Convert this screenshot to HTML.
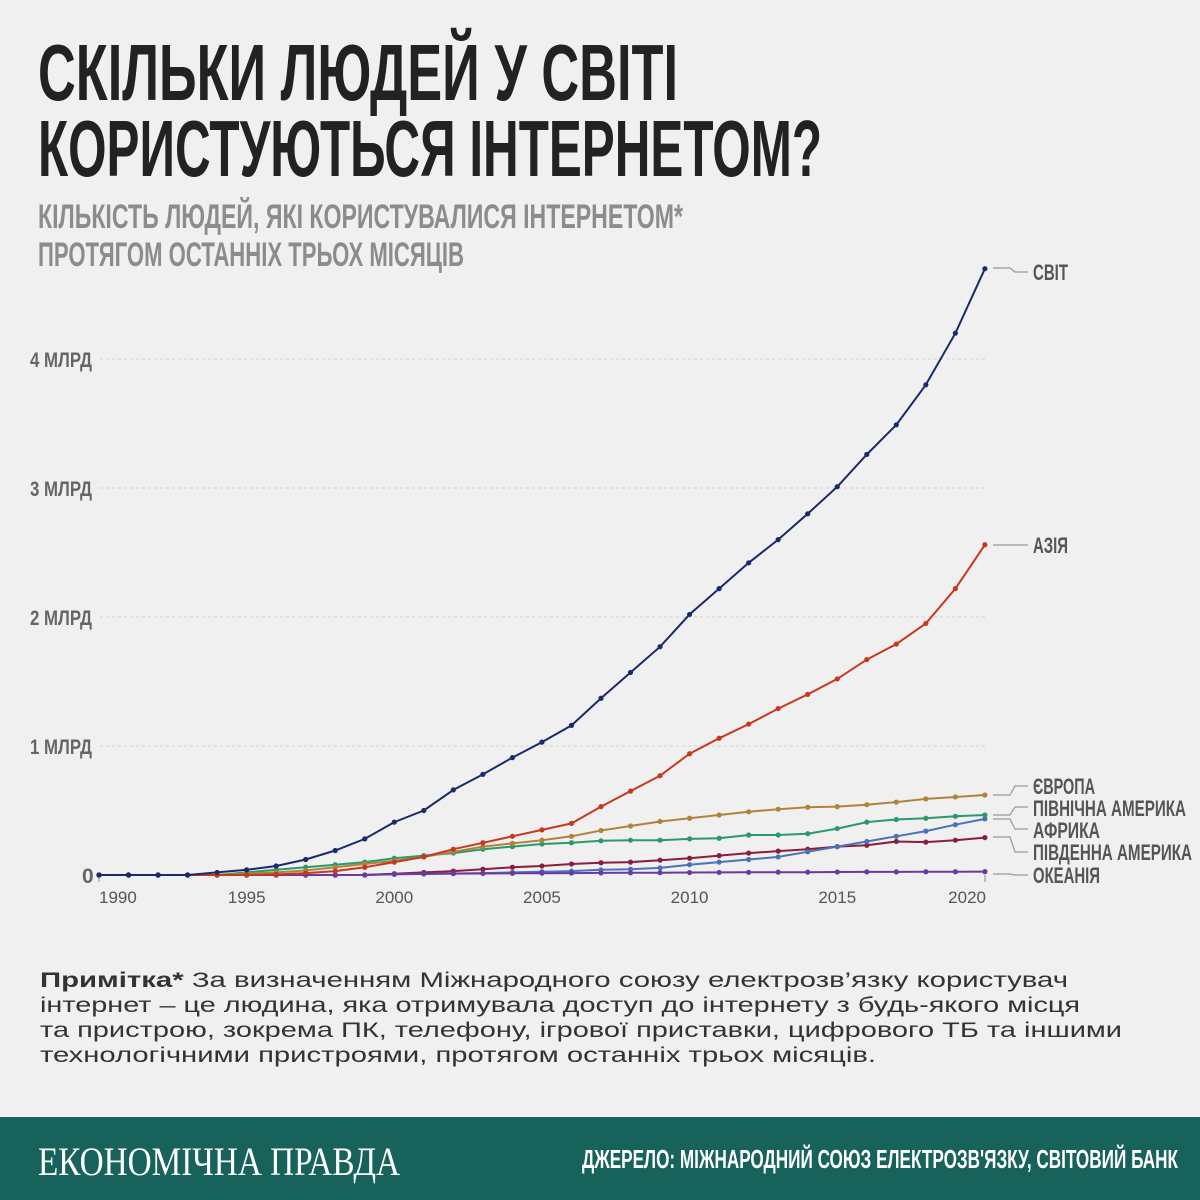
<!DOCTYPE html>
<html><head><meta charset="utf-8"><style>
html,body{margin:0;padding:0;background:#f0f0f0;}
svg{display:block;}
.c{font-family:"Liberation Sans Narrow","Liberation Sans",sans-serif;font-weight:bold;}
</style></head><body>
<svg id="s" width="1200" height="1200" xmlns="http://www.w3.org/2000/svg">
<rect width="1200" height="1200" fill="#f0f0f0"/>
<text class="c" x="38" y="100" font-size="80" fill="#222" textLength="640" lengthAdjust="spacingAndGlyphs">СКІЛЬКИ ЛЮДЕЙ У СВІТІ</text>
<text class="c" x="38" y="176" font-size="80" fill="#222" textLength="784" lengthAdjust="spacingAndGlyphs">КОРИСТУЮТЬСЯ ІНТЕРНЕТОМ?</text>
<text class="c" x="38" y="228" font-size="34" fill="#8c8c8c" textLength="645" lengthAdjust="spacingAndGlyphs">КІЛЬКІСТЬ ЛЮДЕЙ, ЯКІ КОРИСТУВАЛИСЯ ІНТЕРНЕТОМ*</text>
<text class="c" x="38" y="266" font-size="34" fill="#8c8c8c" textLength="426" lengthAdjust="spacingAndGlyphs">ПРОТЯГОМ ОСТАННІХ ТРЬОХ МІСЯЦІВ</text>
<g id="grid" stroke="#cfcfcf" stroke-dasharray="3,3" stroke-width="1"></g>
<g id="ylab" class="c" font-size="21" fill="#666"></g>
<g id="xlab" font-family="Liberation Sans,sans-serif" font-size="17" fill="#555"></g>
<g id="series"></g>
<g id="conn" stroke="#999" fill="none" stroke-width="1.2"></g>
<g class="c" font-size="22" fill="#555">
<text x="1033" y="280" textLength="35" lengthAdjust="spacingAndGlyphs">СВІТ</text>
<text x="1033" y="553" textLength="35" lengthAdjust="spacingAndGlyphs">АЗІЯ</text>
<text x="1033" y="794" textLength="62" lengthAdjust="spacingAndGlyphs">ЄВРОПА</text>
<text x="1033" y="816" textLength="153" lengthAdjust="spacingAndGlyphs">ПІВНІЧНА АМЕРИКА</text>
<text x="1033" y="838" textLength="67" lengthAdjust="spacingAndGlyphs">АФРИКА</text>
<text x="1033" y="860" textLength="159" lengthAdjust="spacingAndGlyphs">ПІВДЕННА АМЕРИКА</text>
<text x="1033" y="883" textLength="67" lengthAdjust="spacingAndGlyphs">ОКЕАНІЯ</text>
</g>
<g font-family="Liberation Sans,sans-serif" font-size="21" fill="#333">
<text x="40" y="987" textLength="1028" lengthAdjust="spacingAndGlyphs"><tspan font-weight="bold">Примітка*</tspan> За визначенням Міжнародного союзу електрозв’язку користувач</text>
<text x="40" y="1012" textLength="1040" lengthAdjust="spacingAndGlyphs">інтернет – це людина, яка отримувала доступ до інтернету з будь-якого місця</text>
<text x="40" y="1037" textLength="1082" lengthAdjust="spacingAndGlyphs">та пристрою, зокрема ПК, телефону, ігрової приставки, цифрового ТБ та іншими</text>
<text x="40" y="1062" textLength="836" lengthAdjust="spacingAndGlyphs">технологічними пристроями, протягом останніх трьох місяців.</text>
</g>
<rect x="0" y="1117" width="1200" height="83" fill="#17625a"/>
<text x="38" y="1175" font-family="Liberation Serif,serif" font-size="40" fill="#fff" textLength="362" lengthAdjust="spacingAndGlyphs">ЕКОНОМІЧНА ПРАВДА</text>
<text class="c" x="582" y="1168" font-size="26" fill="#fff" textLength="596" lengthAdjust="spacingAndGlyphs">ДЖЕРЕЛО: МІЖНАРОДНИЙ СОЮЗ ЕЛЕКТРОЗВ'ЯЗКУ, СВІТОВИЙ БАНК</text>
</svg>
<script>
var NS="http://www.w3.org/2000/svg";
function el(p,t,a,txt){var e=document.createElementNS(NS,t);for(var k in a)e.setAttribute(k,a[k]);if(txt)e.textContent=txt;document.getElementById(p).appendChild(e);return e;}
function X(i){return 99+i*29.53;}
function Y(v){return 875-v*129;}
for(var b=1;b<=4;b++){el("grid","line",{x1:100,x2:985,y1:Y(b),y2:Y(b)});el("ylab","text",{x:30,y:Y(b)+8,textLength:62,lengthAdjust:"spacingAndGlyphs"},b+" МЛРД");}
el("ylab","text",{x:82,y:883},"0");
el("grid","line",{x1:99,x2:99,y1:875,y2:882,"stroke-dasharray":"none",stroke:"#888"});
el("grid","line",{x1:985,x2:985,y1:875,y2:882,"stroke-dasharray":"none",stroke:"#888"});
[1990,1995,2000,2005,2010,2015,2020].forEach(function(y,i){var x=X(y-1990);var a={x:x,y:903,"text-anchor":"middle"};if(y==1990){a.x=99;a["text-anchor"]="start";}if(y==2020){a.x=986;a["text-anchor"]="end";}el("xlab","text",a,""+y);});
var z=function(n){var r=[];for(var i=0;i<n;i++)r.push(0);return r;};
var S=[
["#8b1e3a",z(10).concat([.01,.02,.03,.045,.06,.07,.085,.095,.10,.115,.13,.15,.17,.185,.2,.22,.23,.26,.255,.27,.29])],
["#4a72b8",z(10).concat([.005,.008,.012,.015,.02,.025,.03,.04,.045,.055,.08,.1,.12,.14,.18,.22,.26,.30,.34,.39,.435])],
["#6a3aa0",z(10).concat([.008,.01,.011,.012,.013,.014,.015,.016,.017,.018,.019,.02,.021,.022,.022,.023,.024,.024,.025,.025,.026])],
["#2a9a6a",z(5).concat([.02,.04,.06,.08,.10,.13,.15,.17,.20,.22,.24,.25,.265,.27,.27,.28,.285,.31,.31,.32,.36,.41,.43,.44,.455,.465])],
["#b0833a",z(5).concat([.01,.02,.035,.06,.085,.11,.14,.18,.22,.245,.27,.30,.345,.38,.415,.44,.465,.49,.51,.525,.53,.545,.565,.59,.605,.62])],
["#c8381e",z(6).concat([.005,.015,.03,.06,.10,.14,.20,.25,.30,.35,.40,.53,.65,.77,.94,1.06,1.17,1.29,1.40,1.52,1.67,1.79,1.95,2.22,2.56])],
["#1a2a6c",[0,0,0,0,.02,.04,.07,.12,.19,.28,.41,.50,.66,.78,.91,1.03,1.16,1.37,1.57,1.77,2.02,2.22,2.42,2.60,2.80,3.01,3.26,3.49,3.80,4.20,4.70]]
];
S.forEach(function(s){var d=s[1],pts=[];for(var i=0;i<d.length;i++)pts.push(X(i).toFixed(1)+","+Y(d[i]).toFixed(1));
el("series","polyline",{points:pts.join(" "),fill:"none",stroke:s[0],"stroke-width":2});
for(var i=0;i<d.length;i++)el("series","circle",{cx:X(i),cy:Y(d[i]),r:2.6,fill:s[0]});});
[[268,272],[545,545],[795,786],[815,807],[819,829],[837,852],[874,875]].forEach(function(p){el("conn","polyline",{points:"993,"+p[0]+" 1010,"+p[0]+" 1015,"+p[1]+" 1028,"+p[1]});});
</script>
</body></html>
